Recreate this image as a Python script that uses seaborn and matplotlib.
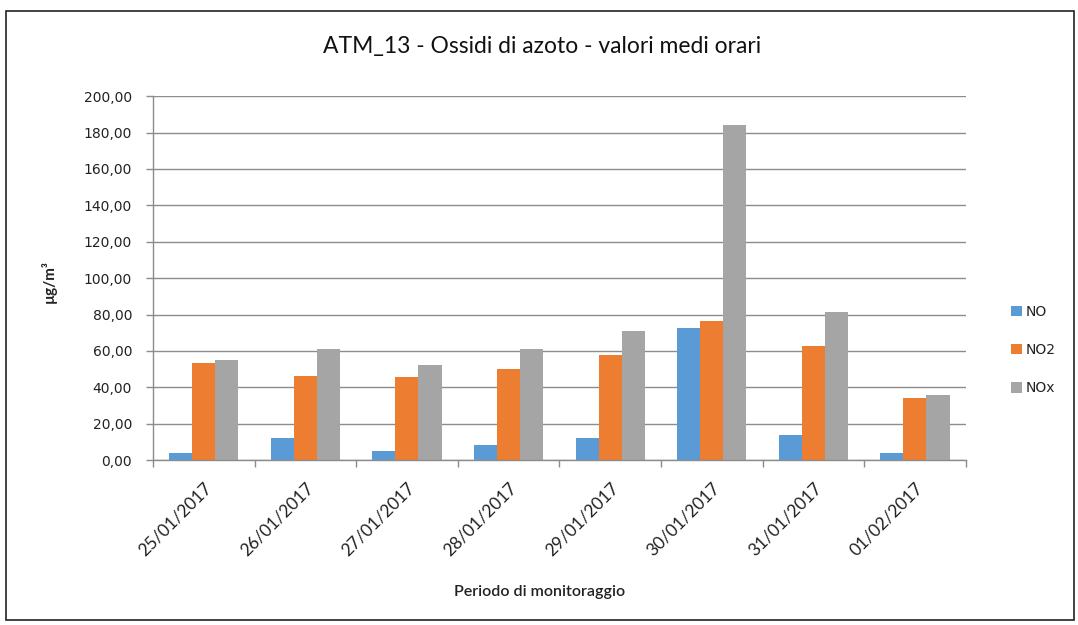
import matplotlib
matplotlib.use("Agg")
import matplotlib.pyplot as plt
import seaborn as sns
import pandas as pd
import numpy as np
from matplotlib.ticker import FuncFormatter, MultipleLocator, FixedLocator
from matplotlib.patches import Rectangle

dates = ["25/01/2017", "26/01/2017", "27/01/2017", "28/01/2017",
         "29/01/2017", "30/01/2017", "31/01/2017", "01/02/2017"]
no_vals = [3.7, 11.9, 4.9, 8.2, 11.9, 72.7, 13.5, 3.7]
no2_vals = [53.1, 46.2, 45.4, 49.8, 57.7, 76.2, 62.8, 33.9]
nox_vals = [54.9, 61.2, 52.2, 61.2, 70.9, 184.4, 81.5, 35.7]
series = ["NO", "NO2", "NOx"]
colors = ["#5B9BD5", "#ED7D31", "#A5A5A5"]

df = pd.DataFrame({
    "Data": dates * 3,
    "Valore": no_vals + no2_vals + nox_vals,
    "Serie": [s for s in series for _ in dates],
})

sns.set_theme(style="white")
plt.rcParams["font.family"] = ["Lato", "DejaVu Sans"]

fig = plt.figure(figsize=(10.78, 6.25), dpi=100)
ax = fig.add_axes([0.1419, 0.264, 0.754, 0.582])

sns.barplot(data=df, x="Data", y="Valore", hue="Serie", order=dates,
            hue_order=series, palette=colors, width=0.68, gap=0,
            saturation=1, linewidth=0, ax=ax, legend=True)

ax.set_ylim(0, 200)
ax.set_xlim(-0.5, len(dates) - 0.5)
ax.yaxis.set_major_locator(MultipleLocator(20))
ax.yaxis.set_major_formatter(FuncFormatter(lambda v, p: f"{v:.2f}".replace(".", ",")))
ax.xaxis.set_minor_locator(FixedLocator(np.arange(-0.5, len(dates), 1.0)))
ax.grid(axis="y", color="#8c8c8c", linewidth=1.0)
ax.set_axisbelow(True)
for s in ["top", "right"]:
    ax.spines[s].set_visible(False)
for s in ["left", "bottom"]:
    ax.spines[s].set_color("#8c8c8c")
    ax.spines[s].set_linewidth(1.0)

ax.tick_params(axis="y", which="major", labelsize=10, labelcolor="#222222",
               length=5, width=1, color="#8c8c8c", direction="out", left=True, pad=10)
for lab in ax.get_yticklabels():
    lab.set_fontfamily("DejaVu Sans")
ax.tick_params(axis="x", which="major", labelsize=12.5, labelcolor="#222222",
               length=0, pad=14)
ax.tick_params(axis="x", which="minor", length=5, width=1, color="#8c8c8c",
               direction="out", bottom=True)
plt.setp(ax.get_xticklabels(), rotation=45, ha="right", rotation_mode="anchor")

ax.set_xlabel("Periodo di monitoraggio", fontsize=11.5, fontweight="semibold",
              color="#222222")
ax.xaxis.set_label_coords(0.476, -0.345)
ax.set_ylabel("µg/m³", fontsize=11, fontweight="bold", color="#222222")
ax.yaxis.set_label_coords(-0.118, 0.49)
fig.text(0.503, 0.925, "ATM_13 - Ossidi di azoto - valori medi orari",
         ha="center", va="center", fontsize=16.5, color="#111111")

handles, labels = ax.get_legend_handles_labels()
leg = ax.legend(handles, labels, loc="center left", bbox_to_anchor=(0.926, 0.44),
                bbox_transform=fig.transFigure, frameon=False, fontsize=10,
                handlelength=0.8, handleheight=0.8, labelspacing=1.75, handletextpad=0.3)
for t in leg.get_texts():
    t.set_fontfamily("DejaVu Sans")
    t.set_color("#222222")

fig.patches.append(Rectangle((0.006, 0.008), 0.99, 0.975, transform=fig.transFigure,
                             fill=False, edgecolor="#222222", linewidth=1.2))

fig.savefig("out.png", dpi=100, facecolor="white")
